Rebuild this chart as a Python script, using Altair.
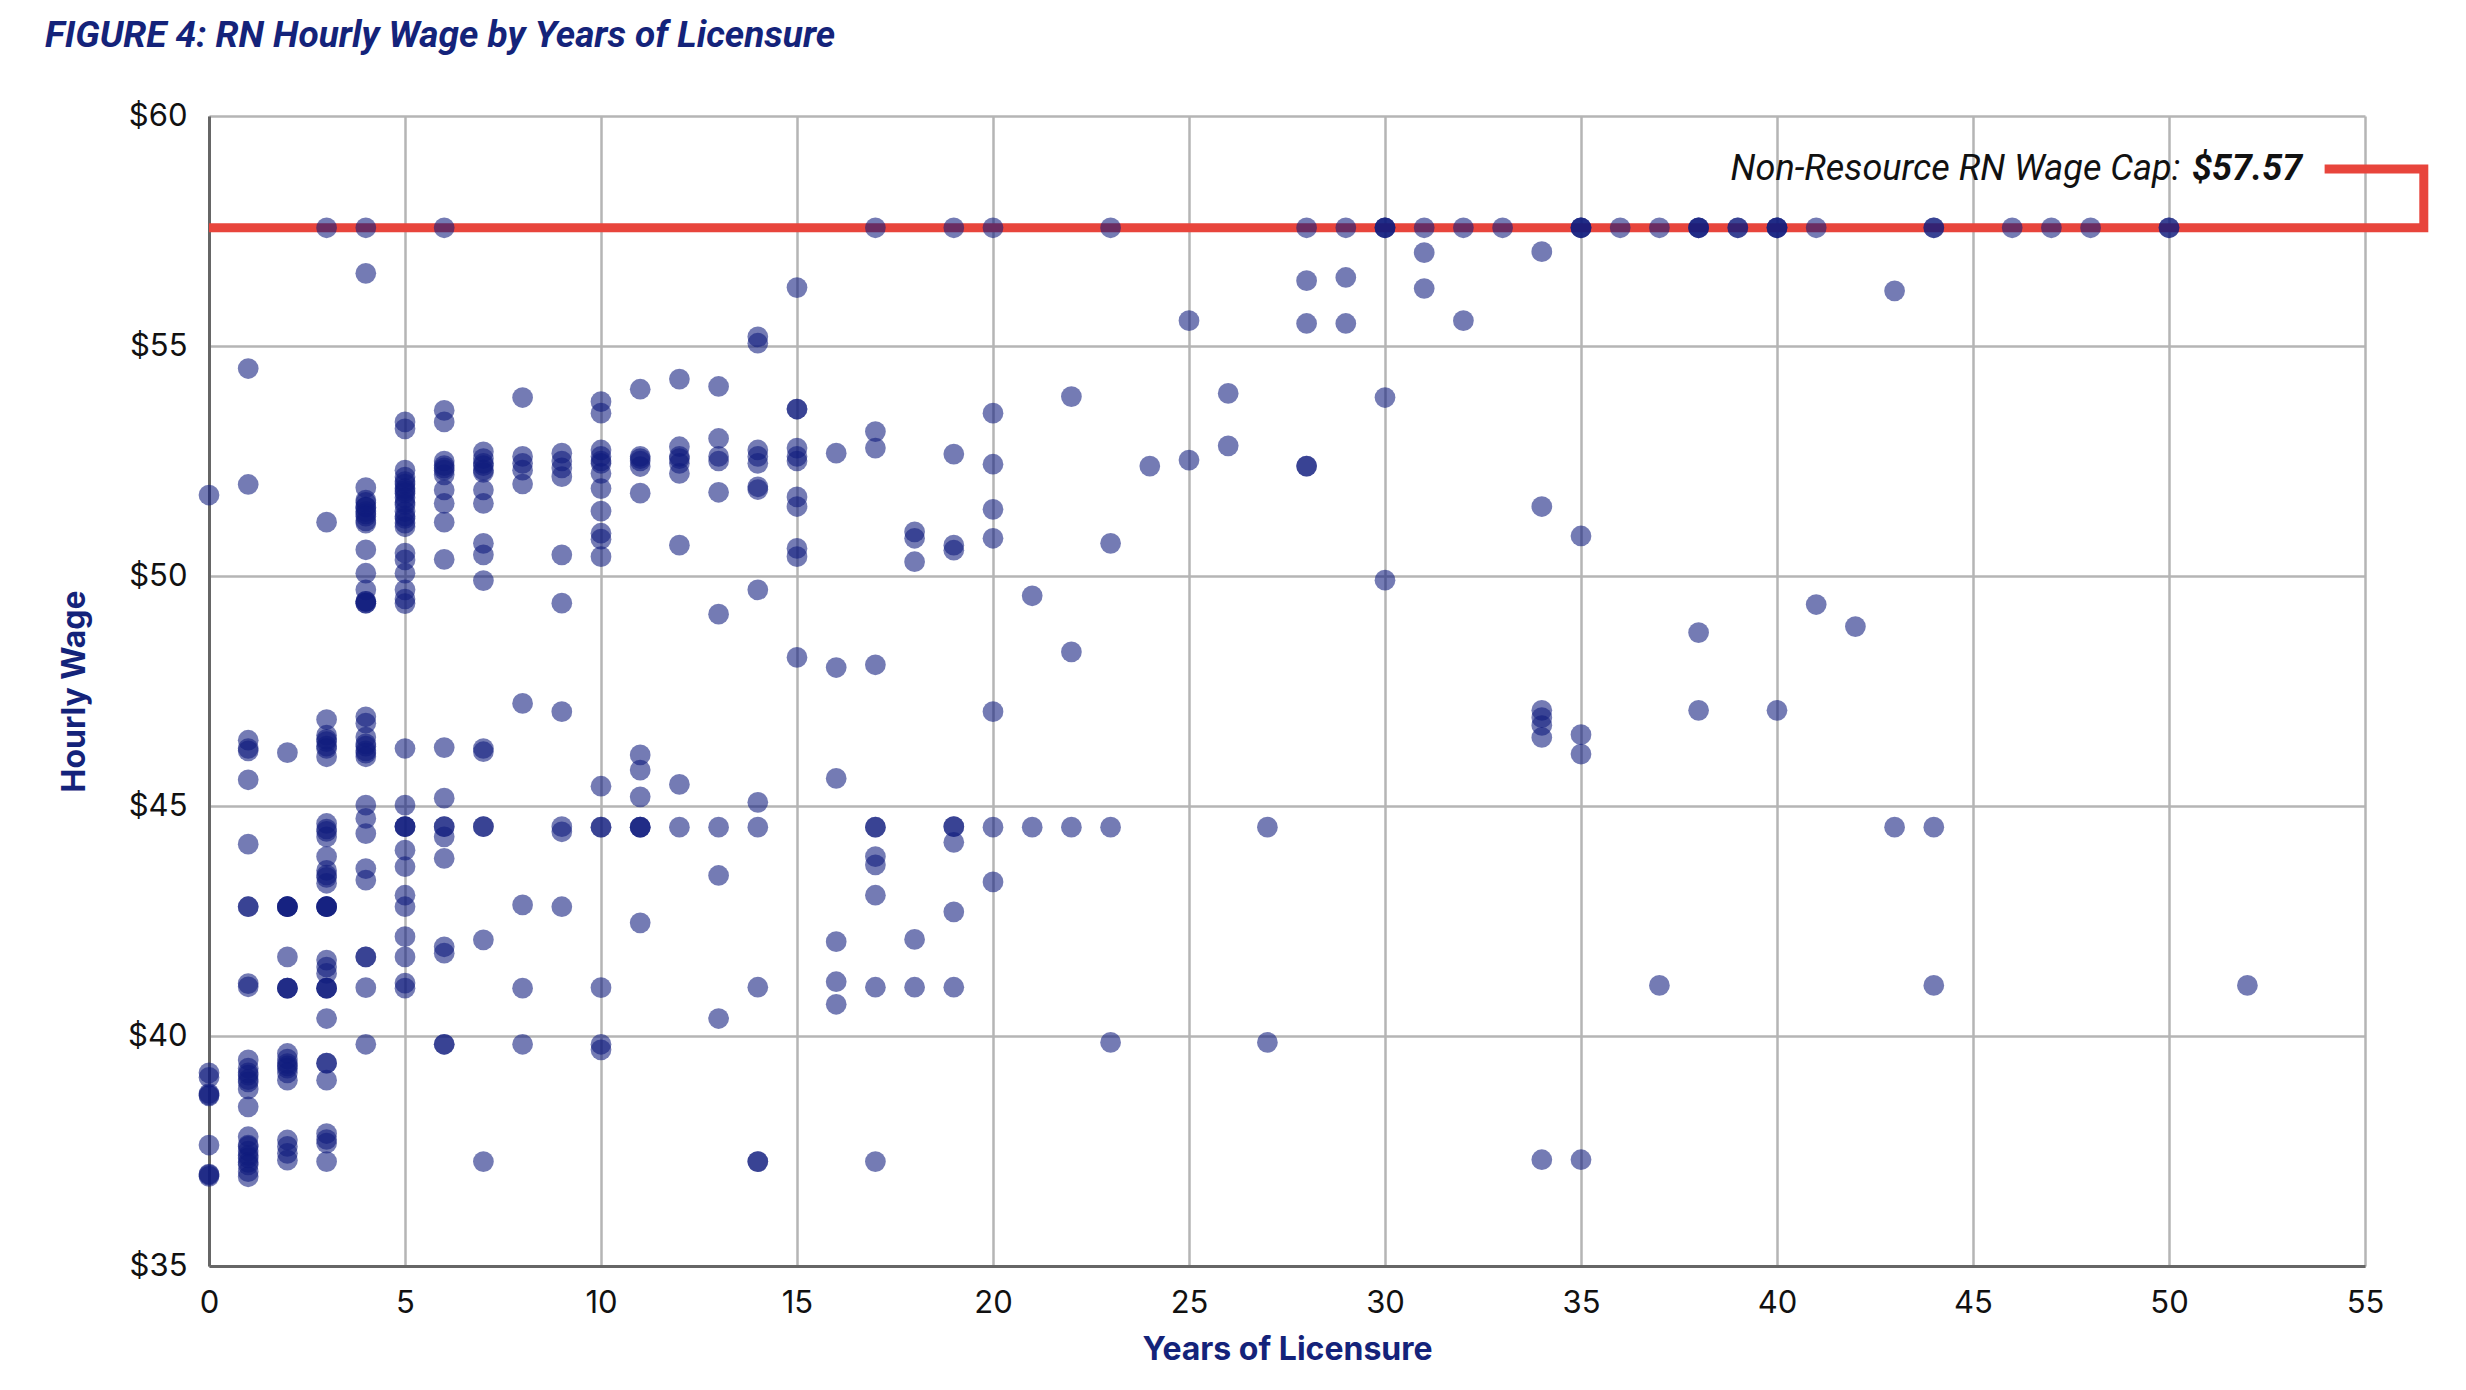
import altair as alt
import pandas as pd

# wage cap and the years of the points that sit right on it
WAGE_CAP = 57.57
cap_years = [3, 4, 6, 17, 19, 20, 23, 28, 29, 30, 30, 30, 31, 32, 33, 35, 35, 35, 36, 37,
             38, 38, 38, 39, 39, 40, 40, 40, 41, 44, 44, 46, 47, 48, 50, 50]

# hourly wages, one list per year of licensure (0-20)
wages_y0 = [51.76, 39.2, 39.1, 38.75, 38.72, 38.7, 37.63, 37.0, 36.98, 36.95]
wages_y1 = [54.51, 51.99, 46.43, 46.25, 46.2, 45.57, 44.17, 42.81, 42.81, 41.14, 41.07, 39.48,
            39.3, 39.2, 39.15, 39.05, 39.0, 38.85, 38.46, 37.81, 37.63, 37.6, 37.5, 37.4,
            37.35, 37.25, 37.2, 37.05, 36.94]
wages_y2 = [46.16, 42.81, 42.81, 42.81, 42.81, 41.72, 41.04, 41.04, 41.04, 39.62, 39.5, 39.4,
            39.35, 39.3, 39.2, 39.04, 37.74, 37.6, 37.45, 37.3]
wages_y3 = [51.17, 46.88, 46.54, 46.45, 46.4, 46.3, 46.25, 46.07, 44.62, 44.5, 44.45, 44.33,
            43.9, 43.6, 43.5, 43.45, 43.32, 42.81, 42.81, 42.81, 42.81, 41.65, 41.5, 41.36,
            41.04, 41.04, 41.04, 40.38, 39.41, 39.41, 39.04, 37.88, 37.75, 37.67, 37.27]
wages_y4 = [56.58, 51.92, 51.65, 51.6, 51.5, 51.5, 51.4, 51.35, 51.3, 51.2, 51.15, 50.57,
            50.06, 49.7, 49.45, 49.45, 49.41, 49.41, 46.94, 46.8, 46.5, 46.35, 46.3, 46.2,
            46.15, 46.07, 45.02, 44.73, 44.4, 43.64, 43.39, 41.72, 41.72, 41.05, 39.82]
wages_y5 = [53.35, 53.2, 52.3, 52.15, 52.05, 52.0, 51.9, 51.85, 51.8, 51.7, 51.6, 51.55, 51.4,
            51.3, 51.25, 51.15, 51.07, 50.5, 50.35, 50.06, 49.7, 49.5, 49.4, 46.25, 45.02,
            44.55, 44.55, 44.55, 44.04, 43.68, 43.06, 42.81, 42.16, 41.72, 41.15, 41.04]
wages_y6 = [53.6, 53.35, 52.5, 52.4, 52.35, 52.3, 52.2, 51.87, 51.58, 51.17, 50.36, 46.27,
            45.17, 44.55, 44.55, 44.33, 43.86, 41.94, 41.8, 39.82, 39.82]
wages_y7 = [52.7, 52.55, 52.45, 52.4, 52.3, 52.25, 51.87, 51.58, 50.71, 50.46, 49.9, 46.25,
            46.18, 44.55, 44.55, 42.09, 37.27]
wages_y8 = [53.88, 52.6, 52.45, 52.3, 52.0, 47.23, 42.85, 41.04, 39.82]
wages_y9 = [52.67, 52.5, 52.35, 52.16, 50.46, 49.41, 47.05, 44.55, 44.44, 42.81]
wages_y10 = [53.79, 53.54, 52.74, 52.6, 52.5, 52.45, 52.23, 51.9, 51.41, 50.93, 50.8, 50.42,
             45.43, 44.54, 44.54, 41.05, 39.82, 39.7]
wages_y11 = [54.06, 52.6, 52.55, 52.5, 52.38, 51.8, 46.11, 45.78, 45.2, 44.54, 44.54, 44.54,
             42.46]
wages_y12 = [54.28, 52.81, 52.6, 52.55, 52.45, 52.23, 50.67, 45.47, 44.54]
wages_y13 = [54.12, 52.99, 52.6, 52.5, 51.82, 49.17, 44.54, 43.49, 40.38]
wages_y14 = [55.2, 55.06, 52.74, 52.6, 52.45, 51.94, 51.88, 49.7, 45.08, 44.54, 41.06, 37.27,
             37.27]
wages_y15 = [56.27, 53.63, 53.63, 52.78, 52.6, 52.5, 51.72, 51.51, 50.6, 50.42, 48.23]
wages_y16 = [52.67, 48.01, 45.6, 42.05, 41.18, 40.69]
wages_y17 = [53.14, 52.78, 48.07, 44.54, 44.54, 43.9, 43.72, 43.06, 41.06, 37.27]
wages_y18 = [50.96, 50.82, 50.31, 42.1, 41.06]
wages_y19 = [52.65, 50.67, 50.56, 44.55, 44.55, 44.21, 42.7, 41.06]
wages_y20 = [53.54, 52.43, 51.45, 50.82, 47.05, 44.54, 43.35]

# sparser points past 20 years (below the cap)
late_years = [21, 21, 22, 22, 22, 23, 23, 23, 24, 25, 25, 26, 26, 27, 27, 28, 28, 28, 28, 29,
              29, 30, 30, 31, 31, 32, 34, 34, 34, 34, 34, 34, 34, 35, 35, 35, 35, 37, 38, 38,
              40, 41, 42, 43, 43, 44, 44, 52]
late_wages = [49.57, 44.54, 53.9, 48.35, 44.54, 50.71, 44.54, 39.86, 52.39, 55.55, 52.52,
              53.97, 52.83, 44.54, 39.86, 56.42, 55.49, 52.39, 52.39, 56.49, 55.49, 53.88,
              49.91, 57.03, 56.25, 55.55, 57.05, 51.51, 47.08, 46.92, 46.75, 46.49, 37.31,
              50.87, 46.55, 46.13, 37.31, 41.1, 48.77, 47.08, 47.08, 49.38, 48.9, 56.2, 44.54,
              44.54, 41.1, 41.1]

early = [wages_y0, wages_y1, wages_y2, wages_y3, wages_y4, wages_y5, wages_y6, wages_y7,
         wages_y8, wages_y9, wages_y10, wages_y11, wages_y12, wages_y13, wages_y14, wages_y15,
         wages_y16, wages_y17, wages_y18, wages_y19, wages_y20]

years, wages = [], []
for yr, ws in enumerate(early):
    years += [yr] * len(ws)
    wages += ws
years += late_years
wages += late_wages
years += cap_years
wages += [WAGE_CAP] * len(cap_years)
df = pd.DataFrame({"years": years, "wage": wages})

NAVY = "#0f1c7e"
TITLE_NAVY = "#14237a"
RED = "#e8453c"

# annotation bracket (layout, in data units)
BRACKET_X = 56.5
LABEL_Y = 58.85
LABEL_X = 53.4
bracket = pd.DataFrame({
    "years": [0, BRACKET_X, BRACKET_X, 53.97],
    "wage": [WAGE_CAP, WAGE_CAP, LABEL_Y, LABEL_Y],
    "o": [0, 1, 2, 3],
})
label = pd.DataFrame({"years": [LABEL_X], "wage": [LABEL_Y]})

x_enc = alt.X("years:Q", scale=alt.Scale(domain=[0, 55], nice=False, zero=False),
              axis=alt.Axis(values=list(range(0, 56, 5)), title="Years of Licensure",
                            labelPadding=22, titlePadding=16, labelFlush=False))
y_enc = alt.Y("wage:Q", scale=alt.Scale(domain=[35, 60], nice=False, zero=False),
              axis=alt.Axis(values=[35, 40, 45, 50, 55, 60], format="$d", title="Hourly Wage",
                            labelPadding=22, titlePadding=36, labelFlush=False))

cap_line = alt.Chart(bracket).mark_line(
    color=RED, strokeWidth=9, clip=False, strokeJoin="miter"
).encode(x=x_enc, y=y_enc, order="o:O")

points = alt.Chart(df).mark_circle(
    size=430, color=NAVY, opacity=0.58
).encode(x=x_enc, y=y_enc)

cap_value = alt.Chart(label).mark_text(
    text=f"${WAGE_CAP:.2f}", align="right", baseline="middle", font="Roboto",
    fontSize=36, fontStyle="italic", fontWeight="bold", color="#111111", clip=False
).encode(x=x_enc, y=y_enc)

cap_text = alt.Chart(label).mark_text(
    text="Non-Resource RN Wage Cap:", align="right", baseline="middle", font="Roboto",
    fontSize=36, fontStyle="italic", color="#111111", dx=-122, clip=False
).encode(x=x_enc, y=y_enc)

chart = alt.layer(cap_line, points, cap_value, cap_text).properties(
    width=2156,
    height=1150,
    padding={"left": 201, "top": 108, "right": 93, "bottom": 116},
    autosize=alt.AutoSizeParams(type="none"),
    title=alt.TitleParams(
        "FIGURE 4: RN Hourly Wage by Years of Licensure",
        anchor="start", frame="group", font="Roboto", fontSize=37, fontStyle="italic",
        fontWeight="bold", color=TITLE_NAVY, dx=-164, offset=45,
    ),
).configure_view(
    strokeWidth=0
).configure_axis(
    gridColor="#b5b5b5", gridWidth=2.5, domainColor="#666666", domainWidth=3,
    ticks=False, labelFont="Inter", labelFontSize=31, labelColor="#111111",
    titleFont="Inter", titleFontSize=32, titleFontWeight="bold", titleColor=TITLE_NAVY,
)

chart.save("out.html", embed_options={"renderer": "svg", "actions": False})
